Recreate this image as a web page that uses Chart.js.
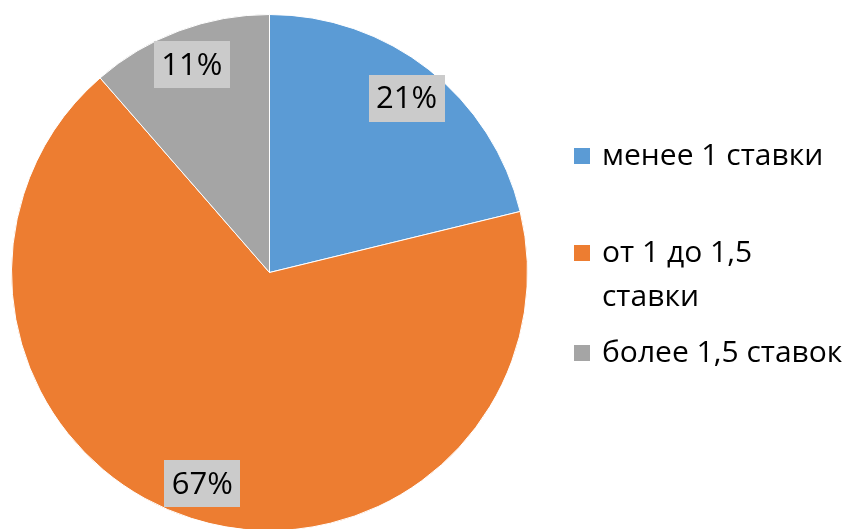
<!DOCTYPE html>
<html><head><meta charset="utf-8">
<script src="https://cdn.jsdelivr.net/npm/chart.js@4.4.1/dist/chart.umd.min.js"></script>
<style>
html,body{margin:0;padding:0;background:#fff;overflow:hidden;width:849px;height:529px;}
#wrap{position:absolute;left:0;top:0;width:849px;height:545px;}
#legend{position:absolute;left:0;top:0;width:849px;height:529px;font-family:"Open Sans",sans-serif;font-size:30px;color:#000;}
.sq{position:absolute;width:16px;height:16px;}
.ln{position:absolute;height:44px;line-height:44px;white-space:nowrap;}
</style></head><body>
<div id="wrap"><canvas id="c" width="849" height="545"></canvas></div>
<div id="legend"></div>
<script>
const categories = ['менее 1 ставки', ['от 1 до 1,5', 'ставки'], 'более 1,5 ставок'];
const values = [21.2, 67.4, 11.4];
const percentLabels = ['21%', '67%', '11%'];
const colors = ['#5b9bd5', '#ed7d31', '#a5a5a5'];

// legend line centers (visual layout)
const legendRows = [[156], [253, 297], [353]];

const labelPlugin = {
  id: 'boxLabels',
  afterDatasetsDraw(chart) {
    const ctx = chart.ctx;
    const meta = chart.getDatasetMeta(0);
    ctx.save();
    ctx.font = '31px "Open Sans", sans-serif';
    ctx.textAlign = 'center';
    ctx.textBaseline = 'middle';
    meta.data.forEach((arc, i) => {
      const p = arc.getProps(['x', 'y', 'startAngle', 'endAngle', 'outerRadius'], true);
      const mid = (p.startAngle + p.endAngle) / 2;
      const r = p.outerRadius * 0.86;
      const cx = p.x + Math.cos(mid) * r;
      const cy = p.y + Math.sin(mid) * r;
      const w = 76, h = 47;
      ctx.fillStyle = '#cbcbcb';
      ctx.fillRect(Math.round(cx - w / 2), Math.round(cy - h / 2), w, h);
      ctx.fillStyle = '#000';
      ctx.fillText(percentLabels[i], cx, cy + 1);
    });
    ctx.restore();
  }
};

new Chart(document.getElementById('c'), {
  type: 'pie',
  data: {
    labels: categories,
    datasets: [{
      data: values,
      backgroundColor: colors,
      borderColor: '#ffffff',
      borderWidth: 1
    }]
  },
  options: {
    responsive: false,
    animation: false,
    layout: { padding: { left: 11, top: 14, right: 321, bottom: 14 } },
    plugins: { legend: { display: false }, tooltip: { enabled: false } }
  },
  plugins: [labelPlugin]
});

const lg = document.getElementById('legend');
categories.forEach((cat, i) => {
  const lines = Array.isArray(cat) ? cat : [cat];
  const sq = document.createElement('div');
  sq.className = 'sq';
  sq.style.background = colors[i];
  sq.style.left = '574px';
  sq.style.top = (legendRows[i][0] - 8) + 'px';
  lg.appendChild(sq);
  lines.forEach((t, j) => {
    const d = document.createElement('div');
    d.className = 'ln';
    d.textContent = t;
    d.style.left = '602px';
    d.style.top = (legendRows[i][j] - 24) + 'px';
    lg.appendChild(d);
  });
});
</script>
</body></html>
